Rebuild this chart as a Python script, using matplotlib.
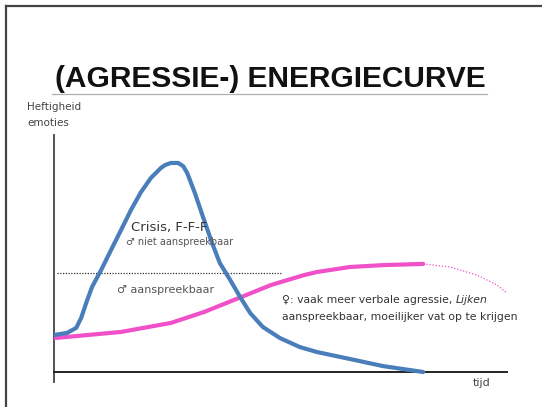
import matplotlib
matplotlib.use("Agg")
import matplotlib.pyplot as plt
from matplotlib.lines import Line2D
from matplotlib import font_manager

W, H = 542, 407

# --- data (time 0..100, intensity 0..100) ---
blue_t = [0, 2.9, 4.9, 6.0, 7.1, 8.4, 10.4, 12.6, 14.8, 17.0, 19.2, 21.4, 23.6, 24.5,
          25.8, 27.4, 28.5, 29.4, 31.1, 32.9, 34.9, 36.6, 38.9, 41.1, 43.3, 46.1,
          49.9, 54.3, 58.1, 65.3, 72.6, 81.5]
blue_i = [15.6, 16.5, 18.6, 22.8, 29.1, 35.9, 43.0, 51.5, 59.9, 68.4, 75.9, 81.9, 86.1, 87.3,
          88.2, 88.2, 86.9, 84.0, 75.5, 65.4, 54.4, 46.0, 38.8, 31.6, 24.9, 19.0,
          14.3, 10.5, 8.4, 5.5, 2.5, 0.0]

pink_t = [0, 14.8, 25.8, 33.1, 41.3, 47.9, 55.2, 58.1, 65.3, 72.6, 81.5]
pink_i = [14.3, 16.9, 20.7, 25.3, 31.6, 36.7, 40.9, 42.2, 44.3, 45.1, 45.6]

pink_dot_t = [81.5, 87.4, 93.4, 97.8, 100.0]
pink_dot_i = [45.6, 44.3, 40.9, 36.7, 33.3]

threshold_level = 41.8
threshold_end = 50.3

title = "(AGRESSIE-) ENERGIECURVE"
ylabel_lines = ["Heftigheid", "emoties"]
xlabel = "tijd"

fig = plt.figure(figsize=(W / 100, H / 100), dpi=100)
fig.patch.set_facecolor("white")

def fx(x):
    return x / W

def fy(y):
    return 1 - y / H

# frame (top and left edges)
fig.add_artist(Line2D([fx(6), fx(6)], [fy(6), fy(407)], color="#444444", lw=1.6))
fig.add_artist(Line2D([fx(6), fx(542)], [fy(6), fy(6)], color="#444444", lw=1.6))

# title (condensed bold), fit to reference width
names = {f.name for f in font_manager.fontManager.ttflist}
tfam = "Liberation Sans Narrow" if "Liberation Sans Narrow" in names else "Liberation Sans"
t = fig.text(fx(55), fy(87), title, fontsize=25, fontweight="bold",
             family=tfam, color="#111111", ha="left", va="baseline")
fig.canvas.draw()
w = t.get_window_extent(renderer=fig.canvas.get_renderer()).width
t.set_fontsize(25 * 432 / w)
fig.add_artist(Line2D([fx(52), fx(487)], [fy(93.5), fy(93.5)], color="#b0b0b0", lw=0.9))

# y label
fig.text(fx(27), fy(107), ylabel_lines[0], fontsize=7.5, color="#444444",
         ha="left", va="center", family="DejaVu Sans")
fig.text(fx(27), fy(123), ylabel_lines[1], fontsize=7.5, color="#444444",
         ha="left", va="center", family="DejaVu Sans")

# axes: x from px 54..507, y from px 382(bottom) .. 135(top, intensity 100)
ax = fig.add_axes([fx(54), fy(382), (507 - 54) / W, (382 - 135) / H])
ax.set_xlim(0, 100)
ax.set_ylim(-10 / 2.37, 100)
ax.patch.set_alpha(0)
for s in ["top", "right"]:
    ax.spines[s].set_visible(False)
ax.spines["left"].set_color("#444444")
ax.spines["left"].set_linewidth(1.3)
ax.spines["bottom"].set_position(("data", 0))
ax.spines["bottom"].set_color("#222222")
ax.spines["bottom"].set_linewidth(1.4)
ax.set_xticks([])
ax.set_yticks([])

ax.plot([0.7, threshold_end], [threshold_level, threshold_level], color="#333333",
        lw=0.9, ls=(0, (1, 1.2)))
ax.plot(pink_t, pink_i, color="#f050c8", lw=3.0, solid_capstyle="round",
        solid_joinstyle="round", zorder=3)
ax.plot(pink_dot_t, pink_dot_i, color="#f050c8", lw=0.9, ls=(0, (1, 1.5)), zorder=3)
ax.plot(blue_t, blue_i, color="#4a7ebb", lw=3.0, solid_capstyle="round",
        solid_joinstyle="round", zorder=4)

# annotations
fig.text(fx(131), fy(227), "Crisis, F-F-F", fontsize=9.5, color="#333333",
         ha="left", va="center", family="DejaVu Sans")
fig.text(fx(126), fy(242), "\u2642 niet aanspreekbaar", fontsize=7, color="#555555",
         ha="left", va="center", family="DejaVu Sans")
fig.text(fx(117), fy(290), "\u2642 aanspreekbaar", fontsize=8, color="#555555",
         ha="left", va="center", family="DejaVu Sans")

t1 = fig.text(fx(282), fy(300), "\u2640: vaak meer verbale agressie, ", fontsize=7.8,
              color="#333333", ha="left", va="center", family="DejaVu Sans")
fig.canvas.draw()
bb = t1.get_window_extent(renderer=fig.canvas.get_renderer())
fig.text(bb.x1 / W, fy(300), "Lijken", fontsize=7.8, color="#333333", style="italic",
         ha="left", va="center", family="DejaVu Sans")
fig.text(fx(282), fy(317), "aanspreekbaar, moeilijker vat op te krijgen", fontsize=7.8,
         color="#333333", ha="left", va="center", family="DejaVu Sans")

fig.text(fx(473), fy(383), xlabel, fontsize=8, color="#444444", ha="left", va="center",
         family="DejaVu Sans")

fig.savefig("out.png", dpi=100, facecolor="white")
